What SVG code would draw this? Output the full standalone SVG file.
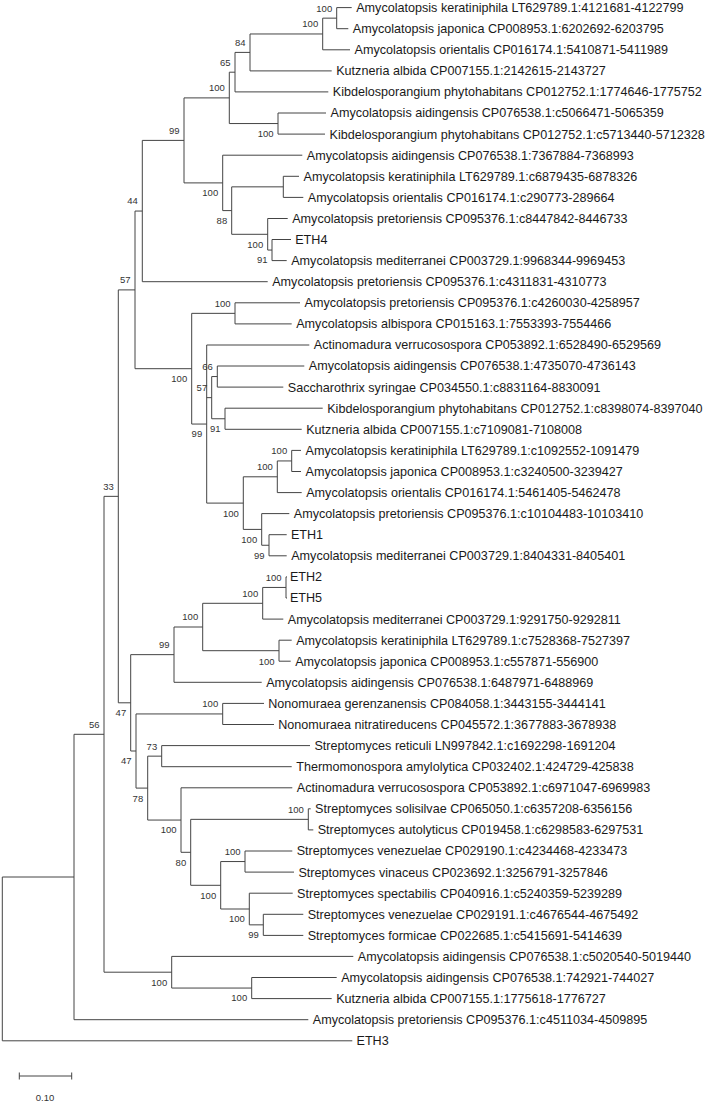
<svg xmlns="http://www.w3.org/2000/svg" width="711" height="1104" viewBox="0 0 711 1104">
<style>
.t{font-family:"Liberation Sans",Arial,sans-serif;font-size:12.6px;fill:#1a1a1a}
.b{font-family:"Liberation Sans",Arial,sans-serif;font-size:9.5px;fill:#333;text-anchor:end}
.br{fill:none;stroke:#444;stroke-width:1}
</style>
<rect width="711" height="1104" fill="#fff"/>
<g id="connectors" class="br">
<path d="M336.7 7.6V28.7M336.7 7.6H351.7M336.7 28.7H348.3
M322.7 18.15V49.8M322.7 18.15H336.7M322.7 49.8H350
M250 33.98V70.9M250 33.98H322.7M250 70.9H331.7
M235 52.4V91.9M235 52.4H250M235 91.9H328.3
M278 113V134.1M278 113H326M278 134.1H325
M229.3 72.2V123.55M229.3 72.2H235M229.3 123.55H278
M283.3 176.3V197.4M283.3 176.3H299M283.3 197.4H303.3
M272 239.5V260.6M272 239.5H291M272 260.6H286.7
M267.7 218.5V250.05M267.7 218.5H287.7M267.7 250.05H272
M231.7 186.85V234.3M231.7 186.85H283.3M231.7 234.3H267.7
M222.7 155.2V210.6M222.7 155.2H302.3M222.7 210.6H231.7
M184 97.9V182.9M184 97.9H229.3M184 182.9H222.7
M142.3 140.4V281.7M142.3 140.4H184M142.3 281.7H267.7
M235 302.8V323.9M235 302.8H300M235 323.9H291.7
M217.3 366V387.1M217.3 366H304.3M217.3 387.1H283.3
M225 408.2V429.3M225 408.2H322.7M225 429.3H301.7
M211.7 376.55V418.75M211.7 376.55H217.3M211.7 418.75H225
M291.7 450.4V471.5M291.7 450.4H301M291.7 471.5H301
M277.3 460.95V492.6M277.3 460.95H291.7M277.3 492.6H301.7
M269 534.7V555.8M269 534.7H286.7M269 555.8H286.7
M261.7 513.6V545.25M261.7 513.6H289.3M261.7 545.25H269
M243.3 476.8V529.4M243.3 476.8H277.3M243.3 529.4H261.7
M206.7 345V503.1M206.7 345H309.3M206.7 397.65H211.7M206.7 503.1H243.3
M191.7 313.35V424.05M191.7 313.35H235M191.7 424.05H206.7
M135 211.05V368.7M135 211.05H142.3M135 368.7H191.7
M286 576.9V598M286 576.9H287M286 598H287
M262.7 587.45V619.1M262.7 587.45H286M262.7 619.1H283.3
M279 640.2V661.2M279 640.2H291.7M279 661.2H290.7
M202.7 603.3V650.7M202.7 603.3H262.7M202.7 650.7H279
M174 627V682.3M174 627H202.7M174 682.3H261.7
M222.7 703.4V724.5M222.7 703.4H264M222.7 724.5H274
M161.7 745.6V766.7M161.7 745.6H310M161.7 766.7H291.7
M308.3 808.8V829.9M308.3 808.8H310.7M308.3 829.9H313.3
M245 851V872.1M245 851H292.3M245 872.1H294
M263.3 914.3V935.4M263.3 914.3H303.3M263.3 935.4H303.3
M249.3 893.2V924.85M249.3 893.2H292.7M249.3 924.85H263.3
M220.7 861.55V909M220.7 861.55H245M220.7 909H249.3
M190.7 819.35V885.3M190.7 819.35H308.3M190.7 885.3H220.7
M181 787.8V852.3M181 787.8H292.3M181 852.3H190.7
M147.7 756.15V820.05M147.7 756.15H161.7M147.7 820.05H181
M136 713.95V788.1M136 713.95H222.7M136 788.1H147.7
M130.7 654.65V751M130.7 654.65H174M130.7 751H136
M118.3 289.9V702.8M118.3 289.9H135M118.3 702.8H130.7
M251.7 977.5V998.6M251.7 977.5H336.7M251.7 998.6H331.7
M171.7 956.4V988.05M171.7 956.4H353.3M171.7 988.05H251.7
M104 496.35V972.2M104 496.35H118.3M104 972.2H171.7
M74 734.3V1019.7M74 734.3H104M74 1019.7H308.3
M2.3 877V1040.8M2.3 877H74M2.3 1040.8H352.3"/>
</g>
<g id="leaves" class="t">
<g id="leaf-0"><text x="356.2" y="12">Amycolatopsis keratiniphila LT629789.1:4121681-4122799</text></g>
<g id="leaf-1"><text x="352.8" y="33.1">Amycolatopsis japonica CP008953.1:6202692-6203795</text></g>
<g id="leaf-2"><text x="354.5" y="54.2">Amycolatopsis orientalis CP016174.1:5410871-5411989</text></g>
<g id="leaf-3"><text x="336.2" y="75.3">Kutzneria albida CP007155.1:2142615-2143727</text></g>
<g id="leaf-4"><text x="332.8" y="96.3">Kibdelosporangium phytohabitans CP012752.1:1774646-1775752</text></g>
<g id="leaf-5"><text x="330.5" y="117.4">Amycolatopsis aidingensis CP076538.1:c5066471-5065359</text></g>
<g id="leaf-6"><text x="329.5" y="138.5">Kibdelosporangium phytohabitans CP012752.1:c5713440-5712328</text></g>
<g id="leaf-7"><text x="306.8" y="159.6">Amycolatopsis aidingensis CP076538.1:7367884-7368993</text></g>
<g id="leaf-8"><text x="303.5" y="180.7">Amycolatopsis keratiniphila LT629789.1:c6879435-6878326</text></g>
<g id="leaf-9"><text x="307.8" y="201.8">Amycolatopsis orientalis CP016174.1:c290773-289664</text></g>
<g id="leaf-10"><text x="292.2" y="222.9">Amycolatopsis pretoriensis CP095376.1:c8447842-8446733</text></g>
<g id="leaf-11"><text x="295.2" y="243.9">ETH4</text></g>
<g id="leaf-12"><text x="291.2" y="265">Amycolatopsis mediterranei CP003729.1:9968344-9969453</text></g>
<g id="leaf-13"><text x="272.2" y="286.1">Amycolatopsis pretoriensis CP095376.1:c4311831-4310773</text></g>
<g id="leaf-14"><text x="304.5" y="307.2">Amycolatopsis pretoriensis CP095376.1:c4260030-4258957</text></g>
<g id="leaf-15"><text x="296.2" y="328.3">Amycolatopsis albispora CP015163.1:7553393-7554466</text></g>
<g id="leaf-16"><text x="313.8" y="349.4">Actinomadura verrucosospora CP053892.1:6528490-6529569</text></g>
<g id="leaf-17"><text x="308.8" y="370.4">Amycolatopsis aidingensis CP076538.1:4735070-4736143</text></g>
<g id="leaf-18"><text x="287.8" y="391.5">Saccharothrix syringae CP034550.1:c8831164-8830091</text></g>
<g id="leaf-19"><text x="327.2" y="412.6">Kibdelosporangium phytohabitans CP012752.1:c8398074-8397040</text></g>
<g id="leaf-20"><text x="306.2" y="433.7">Kutzneria albida CP007155.1:c7109081-7108008</text></g>
<g id="leaf-21"><text x="305.5" y="454.8">Amycolatopsis keratiniphila LT629789.1:c1092552-1091479</text></g>
<g id="leaf-22"><text x="305.5" y="475.9">Amycolatopsis japonica CP008953.1:c3240500-3239427</text></g>
<g id="leaf-23"><text x="306.2" y="497">Amycolatopsis orientalis CP016174.1:5461405-5462478</text></g>
<g id="leaf-24"><text x="293.8" y="518">Amycolatopsis pretoriensis CP095376.1:c10104483-10103410</text></g>
<g id="leaf-25"><text x="290.9" y="539.1">ETH1</text></g>
<g id="leaf-26"><text x="291.2" y="560.2">Amycolatopsis mediterranei CP003729.1:8404331-8405401</text></g>
<g id="leaf-27"><text x="289.9" y="581.3">ETH2</text></g>
<g id="leaf-28"><text x="289.9" y="602.4">ETH5</text></g>
<g id="leaf-29"><text x="287.8" y="623.5">Amycolatopsis mediterranei CP003729.1:9291750-9292811</text></g>
<g id="leaf-30"><text x="296.2" y="644.6">Amycolatopsis keratiniphila LT629789.1:c7528368-7527397</text></g>
<g id="leaf-31"><text x="295.2" y="665.6">Amycolatopsis japonica CP008953.1:c557871-556900</text></g>
<g id="leaf-32"><text x="266.2" y="686.7">Amycolatopsis aidingensis CP076538.1:6487971-6488969</text></g>
<g id="leaf-33"><text x="268.2" y="707.8">Nonomuraea gerenzanensis CP084058.1:3443155-3444141</text></g>
<g id="leaf-34"><text x="278.2" y="728.9">Nonomuraea nitratireducens CP045572.1:3677883-3678938</text></g>
<g id="leaf-35"><text x="314.4" y="750">Streptomyces reticuli LN997842.1:c1692298-1691204</text></g>
<g id="leaf-36"><text x="296.2" y="771.1">Thermomonospora amylolytica CP032402.1:424729-425838</text></g>
<g id="leaf-37"><text x="296.8" y="792.2">Actinomadura verrucosospora CP053892.1:c6971047-6969983</text></g>
<g id="leaf-38"><text x="315.1" y="813.2">Streptomyces solisilvae CP065050.1:c6357208-6356156</text></g>
<g id="leaf-39"><text x="317.7" y="834.3">Streptomyces autolyticus CP019458.1:c6298583-6297531</text></g>
<g id="leaf-40"><text x="296.7" y="855.4">Streptomyces venezuelae CP029190.1:c4234468-4233473</text></g>
<g id="leaf-41"><text x="298.4" y="876.5">Streptomyces vinaceus CP023692.1:3256791-3257846</text></g>
<g id="leaf-42"><text x="297.1" y="897.6">Streptomyces spectabilis CP040916.1:c5240359-5239289</text></g>
<g id="leaf-43"><text x="307.7" y="918.7">Streptomyces venezuelae CP029191.1:c4676544-4675492</text></g>
<g id="leaf-44"><text x="307.7" y="939.8">Streptomyces formicae CP022685.1:c5415691-5414639</text></g>
<g id="leaf-45"><text x="357.8" y="960.8">Amycolatopsis aidingensis CP076538.1:c5020540-5019440</text></g>
<g id="leaf-46"><text x="341.2" y="981.9">Amycolatopsis aidingensis CP076538.1:742921-744027</text></g>
<g id="leaf-47"><text x="336.2" y="1003">Kutzneria albida CP007155.1:1775618-1776727</text></g>
<g id="leaf-48"><text x="312.8" y="1024.1">Amycolatopsis pretoriensis CP095376.1:c4511034-4509895</text></g>
<g id="leaf-49"><text x="356.5" y="1045.2">ETH3</text></g>
</g>
<g id="support" class="b">
<g id="node-c0"><text x="332.2" y="11.6">100</text></g>
<g id="node-n2"><text x="318.2" y="27.4">100</text></g>
<g id="node-n84"><text x="245.5" y="45.8">84</text></g>
<g id="node-n65"><text x="230.5" y="65.6">65</text></g>
<g id="node-n100a"><text x="224.8" y="91.3">100</text></g>
<g id="node-cA1"><text x="273.5" y="137">100</text></g>
<g id="node-n99"><text x="179.5" y="133.8">99</text></g>
<g id="node-nA"><text x="218.2" y="196.3">100</text></g>
<g id="node-nB"><text x="227.2" y="224">88</text></g>
<g id="node-nD"><text x="263.2" y="247.7">100</text></g>
<g id="node-cE4"><text x="267.5" y="263.4">91</text></g>
<g id="node-n44"><text x="137.8" y="204.4">44</text></g>
<g id="node-n57"><text x="130.5" y="283.3">57</text></g>
<g id="node-cP"><text x="230.5" y="306.8">100</text></g>
<g id="node-n100b"><text x="187.2" y="382.1">100</text></g>
<g id="node-c66"><text x="212.8" y="370">66</text></g>
<g id="node-n57b"><text x="207.2" y="391">57</text></g>
<g id="node-n99b"><text x="202.2" y="437.4">99</text></g>
<g id="node-c91"><text x="220.5" y="432.1">91</text></g>
<g id="node-cK"><text x="287.2" y="454.4">100</text></g>
<g id="node-n100d"><text x="272.8" y="470.2">100</text></g>
<g id="node-n100c"><text x="238.8" y="516.5">100</text></g>
<g id="node-n100e"><text x="257.2" y="542.8">100</text></g>
<g id="node-cE1"><text x="264.5" y="558.6">99</text></g>
<g id="node-cE2"><text x="281.5" y="580.8">100</text></g>
<g id="node-n100h"><text x="258.2" y="596.7">100</text></g>
<g id="node-n100g"><text x="198.2" y="620.4">100</text></g>
<g id="node-n99c"><text x="169.5" y="648">99</text></g>
<g id="node-cKJ"><text x="274.5" y="664.6">100</text></g>
<g id="node-n47a"><text x="126.2" y="716.2">47</text></g>
<g id="node-cN"><text x="218.2" y="707.3">100</text></g>
<g id="node-n47b"><text x="131.5" y="764.4">47</text></g>
<g id="node-n73"><text x="157.2" y="749.5">73</text></g>
<g id="node-n78"><text x="143.2" y="801.5">78</text></g>
<g id="node-n100j"><text x="176.5" y="833.4">100</text></g>
<g id="node-cS"><text x="303.8" y="812.7">100</text></g>
<g id="node-n80"><text x="186.2" y="865.7">80</text></g>
<g id="node-cV"><text x="240.5" y="854.9">100</text></g>
<g id="node-n100k"><text x="216.2" y="898.7">100</text></g>
<g id="node-nSp"><text x="244.8" y="922.4">100</text></g>
<g id="node-cF"><text x="258.8" y="938.2">99</text></g>
<g id="node-n100f"><text x="167.2" y="985.6">100</text></g>
<g id="node-cKu"><text x="247.2" y="1001.4">100</text></g>
<g id="node-n33"><text x="113.8" y="489.8">33</text></g>
<g id="node-n56"><text x="99.5" y="727.7">56</text></g>
</g>
<g id="scale">
<path class="br" d="M19.3 1076H71.7M19.3 1072.5V1079.5M71.7 1072.5V1079.5"/>
<text x="45" y="1101" style="font-family:'Liberation Sans',Arial,sans-serif;font-size:9.5px;fill:#333;text-anchor:middle">0.10</text>
</g>
</svg>
